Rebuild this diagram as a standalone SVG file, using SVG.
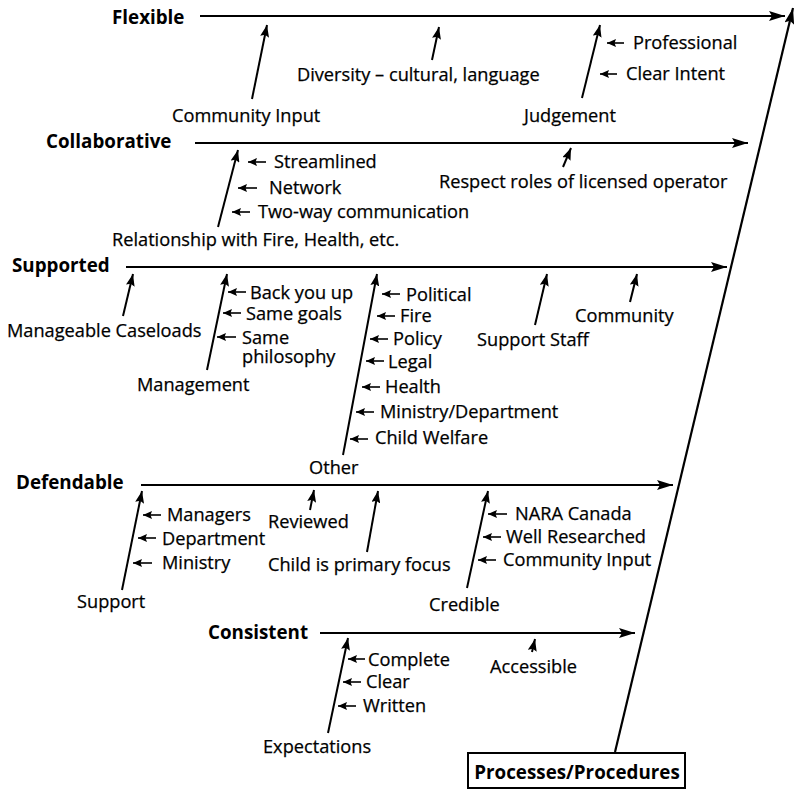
<svg xmlns="http://www.w3.org/2000/svg" width="795" height="790" viewBox="0 0 795 790">
  <defs>
    <marker id="head-lg" viewBox="0 0 16 10" refX="16" refY="5" markerWidth="16" markerHeight="10" markerUnits="userSpaceOnUse" orient="auto">
      <path d="M0,0 L16,5 L0,10 L3,5 z" fill="#000"/>
    </marker>
    <marker id="head" viewBox="0 0 12 9" refX="12" refY="4.5" markerWidth="12" markerHeight="9" markerUnits="userSpaceOnUse" orient="auto">
      <path d="M0,0 L12,4.5 L0,9 L2,4.5 z" fill="#000"/>
    </marker>
    <marker id="head-sm" viewBox="0 0 9 8" refX="9" refY="4" markerWidth="9" markerHeight="8" markerUnits="userSpaceOnUse" orient="auto">
      <path d="M0,0 L9,4 L0,8 L1.5,4 z" fill="#000"/>
    </marker>
  </defs>
  <style>
    text { font-family: "Open Sans", "Liberation Sans", sans-serif; font-size: 18.2px; fill: #000; stroke: #000; stroke-width: 0.25; }
    .cat { font-weight: bold; font-size: 18.8px; stroke-width: 0; }
    .rib { stroke: #000; stroke-width: 2.2; fill: none; marker-end: url(#head-lg); }
    .bone { stroke: #000; stroke-width: 2; fill: none; marker-end: url(#head); }
    .twig { stroke: #000; stroke-width: 1.6; fill: none; marker-end: url(#head-sm); }
  </style>
  <rect width="795" height="790" fill="#fff"/>

  <!-- main ribs, spine and all arrows -->
  <g id="connectors">
    <line class="rib" x1="615" y1="752" x2="793" y2="8"/>
    <line class="rib" x1="200" y1="16" x2="785" y2="16"/>
    <line class="rib" x1="195" y1="143" x2="748" y2="143"/>
    <line class="rib" x1="126" y1="267" x2="727" y2="267"/>
    <line class="rib" x1="141" y1="485" x2="673" y2="485"/>
    <line class="rib" x1="320" y1="633" x2="635" y2="633"/>

    <!-- Flexible causes -->
    <line class="bone" x1="252" y1="99" x2="267" y2="25"/>
    <line class="bone" x1="432" y1="60" x2="439" y2="27"/>
    <line class="bone" x1="582" y1="98" x2="600" y2="25"/>
    <line class="twig" x1="624" y1="43" x2="607" y2="43"/>
    <line class="twig" x1="617" y1="74" x2="600" y2="74"/>

    <!-- Collaborative causes -->
    <line class="bone" x1="218" y1="227" x2="238" y2="150"/>
    <line class="twig" x1="266" y1="162" x2="248" y2="162"/>
    <line class="twig" x1="257" y1="188" x2="238" y2="188"/>
    <line class="twig" x1="250" y1="212" x2="232" y2="212"/>
    <line class="bone" x1="563" y1="167" x2="571" y2="148"/>

    <!-- Supported causes -->
    <line class="bone" x1="123" y1="316" x2="133" y2="274"/>
    <line class="bone" x1="207" y1="370" x2="227" y2="274"/>
    <line class="twig" x1="246" y1="292" x2="228" y2="292"/>
    <line class="twig" x1="241" y1="313" x2="223" y2="313"/>
    <line class="twig" x1="236" y1="337" x2="217" y2="337"/>
    <line class="bone" x1="343" y1="455" x2="377" y2="274"/>
    <line class="twig" x1="400" y1="294" x2="382" y2="294"/>
    <line class="twig" x1="395" y1="316" x2="377" y2="316"/>
    <line class="twig" x1="388" y1="339" x2="370" y2="339"/>
    <line class="twig" x1="384" y1="361" x2="366" y2="361"/>
    <line class="twig" x1="380" y1="387" x2="362" y2="387"/>
    <line class="twig" x1="374" y1="412" x2="356" y2="412"/>
    <line class="twig" x1="368" y1="439" x2="350" y2="439"/>
    <line class="bone" x1="535" y1="325" x2="547" y2="274"/>
    <line class="bone" x1="630" y1="302" x2="637" y2="274"/>

    <!-- Defendable causes -->
    <line class="bone" x1="122" y1="590" x2="142" y2="491"/>
    <line class="twig" x1="161" y1="515" x2="143" y2="515"/>
    <line class="twig" x1="156" y1="538" x2="138" y2="538"/>
    <line class="twig" x1="152" y1="563" x2="133" y2="563"/>
    <line class="bone" x1="310" y1="510" x2="314" y2="490"/>
    <line class="bone" x1="367" y1="552" x2="378" y2="491"/>
    <line class="bone" x1="467" y1="588" x2="488" y2="491"/>
    <line class="twig" x1="507" y1="514" x2="488" y2="514"/>
    <line class="twig" x1="501" y1="537" x2="483" y2="537"/>
    <line class="twig" x1="496" y1="560" x2="478" y2="560"/>

    <!-- Consistent causes -->
    <line class="bone" x1="328" y1="733" x2="348" y2="638"/>
    <line class="twig" x1="365" y1="659" x2="348" y2="659"/>
    <line class="twig" x1="361" y1="682" x2="343" y2="682"/>
    <line class="twig" x1="356" y1="706" x2="338" y2="706"/>
    <line class="bone" x1="532" y1="652" x2="535" y2="639"/>
  </g>

  <g id="flexible">
    <text class="cat" x="112" y="24">Flexible</text>
    <text x="172" y="122">Community Input</text>
    <text x="297" y="81">Diversity – cultural, language</text>
    <text x="524" y="122">Judgement</text>
    <text x="633" y="49">Professional</text>
    <text x="626" y="80">Clear Intent</text>
  </g>

  <g id="collaborative">
    <text class="cat" x="46" y="148">Collaborative</text>
    <text x="112" y="246">Relationship with Fire, Health, etc.</text>
    <text x="274" y="168">Streamlined</text>
    <text x="269" y="194">Network</text>
    <text x="258" y="218">Two-way communication</text>
    <text x="439" y="188">Respect roles of licensed operator</text>
  </g>

  <g id="supported">
    <text class="cat" x="12" y="272">Supported</text>
    <text x="7" y="337">Manageable Caseloads</text>
    <text x="137" y="391">Management</text>
    <text x="250" y="299">Back you up</text>
    <text x="246" y="320">Same goals</text>
    <text x="242" y="344">Same</text>
    <text x="242" y="363">philosophy</text>
    <text x="309" y="474">Other</text>
    <text x="406" y="301">Political</text>
    <text x="400" y="322">Fire</text>
    <text x="393" y="345">Policy</text>
    <text x="388" y="368">Legal</text>
    <text x="385" y="393">Health</text>
    <text x="380" y="418">Ministry/Department</text>
    <text x="375" y="444">Child Welfare</text>
    <text x="477" y="346">Support Staff</text>
    <text x="575" y="322">Community</text>
  </g>

  <g id="defendable">
    <text class="cat" x="16" y="489">Defendable</text>
    <text x="77" y="608">Support</text>
    <text x="167" y="521">Managers</text>
    <text x="162" y="545">Department</text>
    <text x="162" y="569">Ministry</text>
    <text x="268" y="528">Reviewed</text>
    <text x="268" y="571">Child is primary focus</text>
    <text x="429" y="611">Credible</text>
    <text x="515" y="520">NARA Canada</text>
    <text x="506" y="543">Well Researched</text>
    <text x="503" y="566">Community Input</text>
  </g>

  <g id="consistent">
    <text class="cat" x="208" y="639">Consistent</text>
    <text x="263" y="753">Expectations</text>
    <text x="368" y="666">Complete</text>
    <text x="366" y="688">Clear</text>
    <text x="363" y="712">Written</text>
    <text x="490" y="673">Accessible</text>
  </g>

  <g id="processes">
    <rect x="468" y="753" width="217" height="35" fill="#fff" stroke="#000" stroke-width="2"/>
    <text class="cat" x="577" y="779" text-anchor="middle">Processes/Procedures</text>
  </g>
</svg>
